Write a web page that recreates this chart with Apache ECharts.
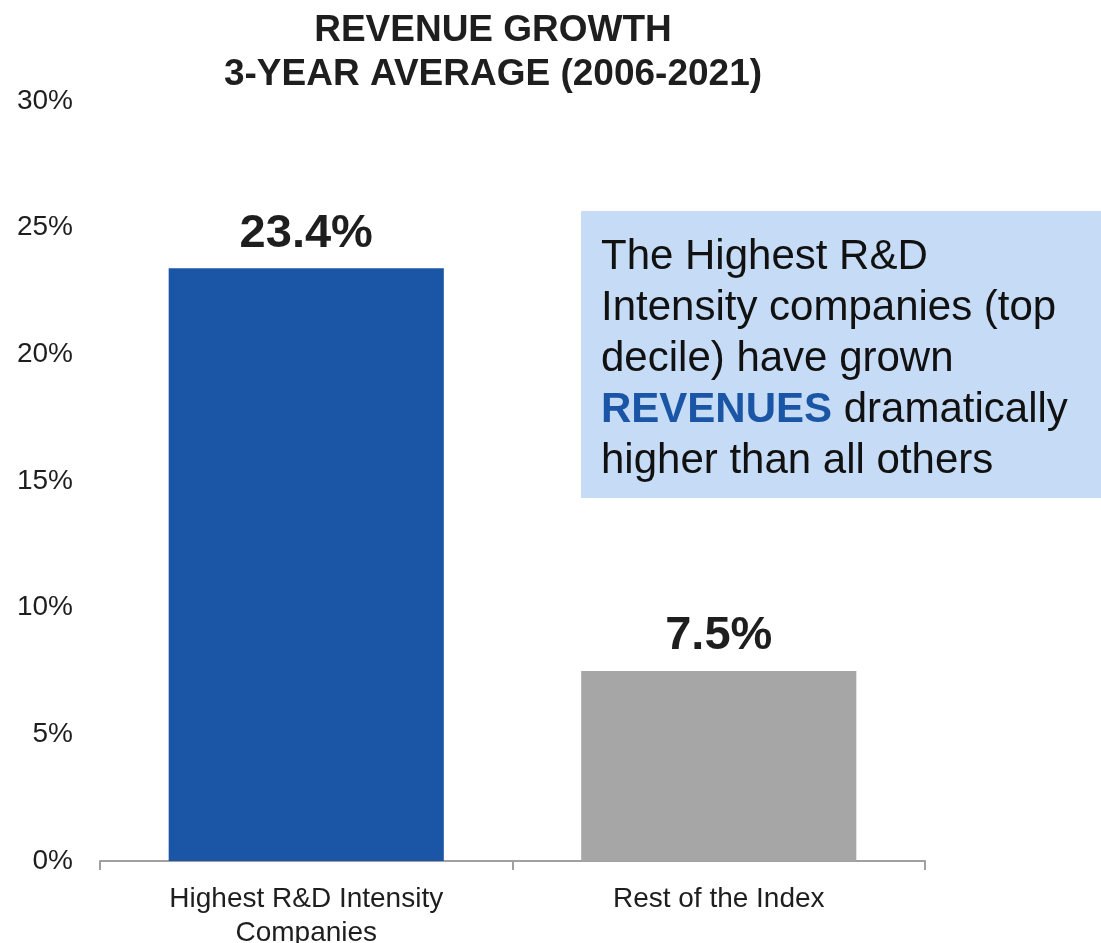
<!DOCTYPE html>
<html>
<head>
<meta charset="utf-8">
<script src="https://cdn.jsdelivr.net/npm/echarts@6/dist/echarts.min.js"></script>
<style>
  html, body { margin: 0; padding: 0; background: #ffffff; }
  #chart { width: 1101px; height: 943px; }
</style>
</head>
<body>
<div id="chart"></div>
<script>
// Revenue growth, 3-year average, by R&D intensity group
const categories = ['Highest R&D Intensity\nCompanies', 'Rest of the Index'];
const growthValues = [23.4, 7.5];
const barColors = ['#1a56a5', '#a6a6a6'];
const yTicks = { min: 0, max: 30, interval: 5 };
const titleLines = ['REVENUE GROWTH', '3-YEAR AVERAGE (2006-2021)'];
const noteLines = [
  'The Highest R&D',
  'Intensity companies (top',
  'decile) have grown',
  '{hl|REVENUES} dramatically',
  'higher than all others'
];

const FONT = '"Liberation Sans", Arial, Helvetica, sans-serif';
const chart = echarts.init(document.getElementById('chart'), null, { renderer: 'canvas' });

chart.setOption({
  backgroundColor: '#ffffff',
  animation: false,
  title: {
    text: titleLines.join('\n'),
    left: 493,
    top: 9,
    textAlign: 'center',
    padding: 0,
    textStyle: {
      fontFamily: FONT,
      fontSize: 37,
      fontWeight: 'bold',
      color: '#1e1e1e',
      lineHeight: 44
    }
  },
  grid: {
    left: 100, right: 176, top: 101, bottom: 82,
    containLabel: false,
    outerBoundsMode: 'none'
  },
  xAxis: {
    type: 'category',
    data: categories,
    boundaryGap: true,
    axisLine: { show: true, lineStyle: { color: '#a0a0a0', width: 2 } },
    axisTick: { show: true, length: 9, lineStyle: { color: '#a0a0a0', width: 2 } },
    axisLabel: {
      margin: 21,
      fontFamily: FONT,
      fontSize: 28,
      lineHeight: 34,
      color: '#1e1e1e'
    },
    splitLine: { show: false }
  },
  yAxis: {
    type: 'value',
    min: yTicks.min,
    max: yTicks.max,
    interval: yTicks.interval,
    axisLine: { show: false },
    axisTick: { show: false },
    splitLine: { show: false },
    axisLabel: {
      margin: 27,
      formatter: '{value}%',
      fontFamily: FONT,
      fontSize: 28,
      color: '#1e1e1e'
    }
  },
  series: [{
    type: 'bar',
    barWidth: '66.7%',
    data: growthValues.map((v, i) => ({ value: v, itemStyle: { color: barColors[i] } })),
    label: {
      show: true,
      position: 'top',
      distance: 11,
      formatter: p => p.value.toFixed(1) + '%',
      fontFamily: FONT,
      fontSize: 47,
      fontWeight: 'bold',
      color: '#1e1e1e'
    }
  }],
  graphic: [{
    type: 'group',
    left: 581,
    top: 211,
    children: [{
      type: 'rect',
      shape: { x: 0, y: 0, width: 520, height: 287 },
      style: { fill: '#c6dbf5' }
    }, {
      type: 'text',
      x: 20,
      y: 21,
      style: {
        text: noteLines.join('\n'),
        fontFamily: FONT,
        fontSize: 42,
        lineHeight: 51,
        fill: '#111111',
        verticalAlign: 'top',
        rich: {
          hl: {
            fontFamily: FONT,
            fontSize: 42,
            lineHeight: 51,
            fontWeight: 'bold',
            fill: '#1a56a5'
          }
        }
      }
    }]
  }]
});
</script>
</body>
</html>
